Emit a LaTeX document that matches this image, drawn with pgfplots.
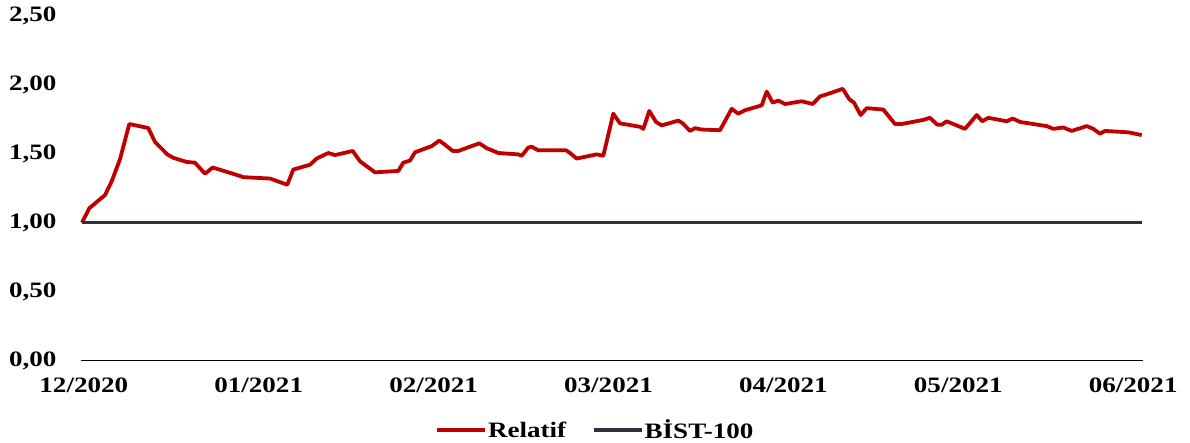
\documentclass[border=0pt]{standalone}
\usepackage{fontspec}
\setmainfont{Liberation Serif}[FakeStretch=1.23]
\usepackage{pgfplots}
\pgfplotsset{compat=1.18}
\definecolor{relred}{HTML}{C00000}
\definecolor{bistdark}{HTML}{2B333D}

\pgfplotstableread{
x y
82.0 1.00
89.3 1.105
105 1.20
111.7 1.30
120 1.46
129.3 1.715
148.3 1.686
155 1.585
167.3 1.495
173.3 1.47
186.7 1.44
195 1.435
205 1.355
212.7 1.40
235 1.35
243.3 1.33
270 1.32
287.3 1.275
293.3 1.385
310 1.42
316.7 1.465
328.3 1.505
335 1.49
352.7 1.52
360 1.445
375 1.365
398.3 1.375
403.3 1.435
410 1.45
415 1.51
431.7 1.555
439.3 1.595
445 1.565
452.7 1.52
458.3 1.52
479.3 1.575
486.7 1.54
498.3 1.505
518.3 1.495
521.7 1.485
528.3 1.545
531.7 1.55
538.3 1.525
566 1.525
570 1.505
576.7 1.465
596.7 1.495
603.3 1.485
613.3 1.79
620 1.72
640 1.695
643.3 1.68
649.3 1.81
656 1.73
661.7 1.705
678.3 1.74
682.7 1.72
690 1.665
695 1.685
701.7 1.675
720 1.67
731.7 1.825
738.3 1.79
745 1.815
761.7 1.85
766.7 1.95
772.7 1.87
778.3 1.885
785 1.86
801.7 1.88
812.7 1.86
820 1.915
826.7 1.93
842.7 1.97
849.3 1.895
854 1.87
860.7 1.78
866.7 1.83
883.3 1.82
895 1.715
901.7 1.715
923.3 1.745
930 1.76
937.3 1.71
941.7 1.71
946.7 1.735
965 1.68
976.7 1.78
982.3 1.735
988.3 1.76
1006.7 1.735
1012.7 1.755
1020 1.73
1046.7 1.70
1053.3 1.68
1063.3 1.69
1071.7 1.665
1086.7 1.70
1093.3 1.68
1100 1.645
1105 1.665
1128.3 1.655
1141.7 1.635
}\relatif

\begin{document}
\begin{tikzpicture}
\path[use as bounding box] (0,0) rectangle (1190bp,443bp);
\begin{axis}[
  at={(80.7bp,82.3bp)}, anchor=south west,
  scale only axis, width=1062.3bp, height=345bp,
  xmin=80.7, xmax=1143, ymin=0, ymax=2.5,
  axis x line*=bottom, axis y line*=left,
  y axis line style={draw=none},
  x axis line style={-, line width=1.4bp, black},
  every outer x axis line/.append style={-},
  major tick length=0pt,
  xtick={83.8,258.7,433.6,608.5,783.4,958.3,1133.2},
  xticklabels={12/2020,01/2021,02/2021,03/2021,04/2021,05/2021,06/2021},
  ytick={0,0.5,1,1.5,2,2.5},
  yticklabels={{0,00},{0,50},{1,00},{1,50},{2,00},{2,50}},
  tick label style={font=\fontsize{22bp}{26bp}\selectfont\bfseries, inner sep=0pt},
  xticklabel style={anchor=center, yshift=-24.5bp},
  yticklabel style={anchor=east, xshift=-24bp},
  clip=false,
  legend columns=2,
  legend style={at={(rel axis cs:0.484,-0.201)}, anchor=center, draw=none,
    font=\fontsize{22bp}{26bp}\selectfont\bfseries, column sep=0pt,
    nodes={inner sep=1bp},
    /tikz/every even column/.append style={column sep=25bp}},
  legend image code/.code={\draw[#1] (0bp,0bp) -- (48bp,0bp);},
]
\addplot[relred, line width=3.8bp, line join=round] table {\relatif};
\addlegendentry{Relatif}
\addplot[bistdark, line width=3.5bp] coordinates {(82,1) (1141.7,1)};
\addlegendentry{BİST-100}
\end{axis}
\end{tikzpicture}
\end{document}
